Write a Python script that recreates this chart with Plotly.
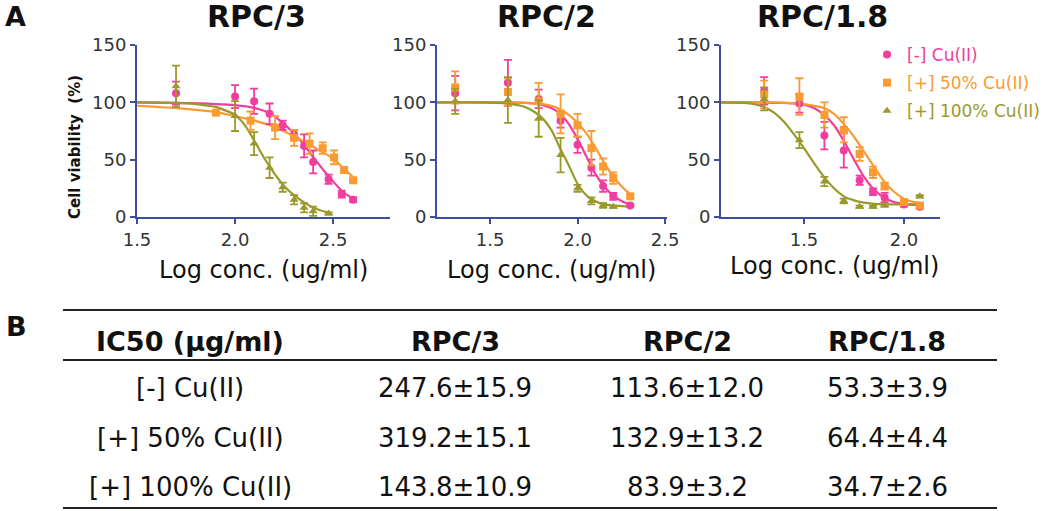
import plotly.graph_objects as go

W, H = 1050, 511
FONT = "DejaVu Sans"
PINK = "#f13d9d"
ORANGE = "#f99b32"
OLIVE = "#9a9a2c"
NAVY = "#3d4e9e"
TXT = "#333333"

series_names = ["[-] Cu(II)", "[+] 50% Cu(II)", "[+] 100% Cu(II)"]
panel_titles = ["RPC/3", "RPC/2", "RPC/1.8"]

# ---------------- Panel 1 : RPC/3 ----------------
p1_neg_x = [1.699, 2.0, 2.097, 2.176, 2.243, 2.301, 2.352, 2.398, 2.477, 2.544, 2.602]
p1_neg_y = [108, 105, 101, 90, 80, 72, 62, 48, 33, 20, 15]
p1_neg_e = [10, 10, 11, 9, 4, 4, 10, 10, 4, 3, 2]
p1_50_x = [1.903, 2.079, 2.204, 2.301, 2.380, 2.447, 2.505, 2.556, 2.602]
p1_50_y = [91, 84, 78, 69, 64, 60, 52, 41, 32]
p1_50_e = [2, 8, 10, 7, 9, 5, 6, 2, 1]
p1_100_x = [1.699, 2.0, 2.097, 2.176, 2.243, 2.301, 2.352, 2.398, 2.477]
p1_100_y = [114, 88, 64, 43, 26, 15, 8, 5, 3]
p1_100_e = [18, 13, 10, 9, 4, 4, 4, 4, 1]

p1_fit_neg_x = [1.5, 1.7, 1.9, 2.0, 2.1, 2.15, 2.2, 2.25, 2.3, 2.35, 2.4, 2.45, 2.5, 2.55, 2.6]
p1_fit_neg_y = [100, 99.5, 98.5, 97.5, 95, 92.5, 88, 81, 73, 63, 52, 41, 31, 22, 16]
p1_fit_50_x = [1.5, 1.6, 1.7, 1.8, 1.9, 2.0, 2.1, 2.2, 2.3, 2.4, 2.5, 2.55, 2.6]
p1_fit_50_y = [97, 96, 95, 93.5, 91.5, 88, 84, 78.5, 70.5, 61, 51, 43, 35]
p1_fit_100_x = [1.5, 1.7, 1.8, 1.9, 1.95, 2.0, 2.05, 2.1, 2.15, 2.2, 2.25, 2.3, 2.35, 2.4, 2.45, 2.48]
p1_fit_100_y = [100, 99.5, 98.5, 96, 93, 89, 80, 66, 51, 38, 27, 19, 13, 8, 5, 4]

# ---------------- Panel 2 : RPC/2 ----------------
p2_x = [1.301, 1.602, 1.778, 1.903, 2.0, 2.079, 2.146, 2.204, 2.301]
p2_neg_y = [108, 117, 103, 84, 63, 43, 27, 18, 10]
p2_neg_e = [15, 20, 8, 6, 7, 7, 5, 3, 1]
p2_50_y = [113, 109, 101, 90, 80, 60, 44, 34, 18]
p2_50_e = [14, 12, 16, 17, 10, 15, 7, 5, 2]
p2_100_x = [1.301, 1.602, 1.778, 1.903, 2.0, 2.079, 2.146, 2.204]
p2_100_y = [101, 102, 86, 54, 25, 14, 10, 9]
p2_100_e = [11, 20, 16, 15, 3, 3, 2, 1]

p2_fit_x = [1.197, 1.4, 1.6, 1.7, 1.75, 1.8, 1.85, 1.9, 1.95, 2.0, 2.05, 2.1, 2.15, 2.2, 2.25, 2.3]
p2_fit_neg_y = [100, 100, 100, 99.5, 99, 97.5, 95, 90, 81, 68, 53, 38, 27, 19, 14, 11]
p2_fit_50_y = [100, 100, 100, 99.5, 99, 98.5, 97, 94, 89, 82, 73, 61, 48, 36, 27, 20]
p2_fit_100_y = [100, 100, 99, 96, 92, 86, 76, 60, 45, 29, 19, 14, 11, 10, 9.5, 9]

# ---------------- Panel 3 : RPC/1.8 ----------------
p3_x = [1.301, 1.477, 1.602, 1.699, 1.778, 1.845, 1.903, 2.0, 2.079]
p3_neg_y = [110, 99, 71, 58, 32, 22, 17, 11, 9]
p3_neg_e = [12, 8, 12, 15, 4, 3, 4, 2, 2]
p3_50_y = [107, 105, 89, 76, 55, 39, 27, 13, 10]
p3_50_e = [12, 16, 11, 11, 6, 5, 3, 2, 2]
p3_100_x = [1.301, 1.477, 1.602, 1.699, 1.778, 1.845, 1.903, 2.079]
p3_100_y = [103, 67, 31, 14, 9, 9, 10, 18]
p3_100_e = [10, 7, 4, 2, 1, 1, 1, 1]

p3_fit_x = [1.085, 1.2, 1.25, 1.3, 1.35, 1.4, 1.45, 1.5, 1.55, 1.6, 1.65, 1.7, 1.75, 1.8,
            1.85, 1.9, 1.95, 2.0, 2.05, 2.1]
p3_fit_neg_y = [100, 100, 100, 100, 99.5, 99.5, 99, 98, 95, 89, 80, 66, 50, 35, 24, 17, 13, 11.5, 10.5, 10]
p3_fit_50_y = [100, 100, 100, 100, 100, 99.5, 99, 98.5, 97, 95, 90, 81, 70, 57, 44, 31, 22, 16, 13, 11.5]
p3_fit_100_y = [100, 99.5, 98.5, 96, 91, 83, 72, 60, 47, 35, 25, 18, 14.5, 12.5, 11.5, 11, 11, 11, 11, 11]

# ---------------- Table B ----------------
table_header = ["IC50 (\u00b5g/ml)", "RPC/3", "RPC/2", "RPC/1.8"]
table_rows = [
    ["[-] Cu(II)", "247.6\u00b115.9", "113.6\u00b112.0", "53.3\u00b13.9"],
    ["[+] 50% Cu(II)", "319.2\u00b115.1", "132.9\u00b113.2", "64.4\u00b14.4"],
    ["[+] 100% Cu(II)", "143.8\u00b110.9", "83.9\u00b13.2", "34.7\u00b12.6"],
]

x_ranges = [[1.5, 2.79], [1.197, 2.511], [1.085, 2.18]]
x_ticks = [[1.5, 2.0, 2.5], [1.5, 2.0, 2.5], [1.5, 2.0]]
y_ticks = [0, 50, 100, 150]


def fx(px):
    return px / W


def fy(py):
    return 1 - py / H


fig = go.Figure()

panels = [
    dict(pts=[(p1_neg_x, p1_neg_y, p1_neg_e), (p1_50_x, p1_50_y, p1_50_e), (p1_100_x, p1_100_y, p1_100_e)],
         fits=[(p1_fit_neg_x, p1_fit_neg_y), (p1_fit_50_x, p1_fit_50_y), (p1_fit_100_x, p1_fit_100_y)]),
    dict(pts=[(p2_x, p2_neg_y, p2_neg_e), (p2_x, p2_50_y, p2_50_e), (p2_100_x, p2_100_y, p2_100_e)],
         fits=[(p2_fit_x, p2_fit_neg_y), (p2_fit_x, p2_fit_50_y), (p2_fit_x, p2_fit_100_y)]),
    dict(pts=[(p3_x, p3_neg_y, p3_neg_e), (p3_x, p3_50_y, p3_50_e), (p3_100_x, p3_100_y, p3_100_e)],
         fits=[(p3_fit_x, p3_fit_neg_y), (p3_fit_x, p3_fit_50_y), (p3_fit_x, p3_fit_100_y)]),
]
colors = [PINK, ORANGE, OLIVE]
symbols = ["circle", "square", "triangle-up"]
sizes = [8, 8, 8]
groups = ["neg", "half", "full"]

for pi, pan in enumerate(panels):
    xa = "x" if pi == 0 else f"x{pi+1}"
    ya = "y" if pi == 0 else f"y{pi+1}"
    for si in range(3):
        fxs, fys = pan["fits"][si]
        fig.add_trace(go.Scatter(x=fxs, y=fys, mode="lines", xaxis=xa, yaxis=ya,
                                 line=dict(color=colors[si], width=2.2, shape="spline", smoothing=0.8),
                                 showlegend=False, hoverinfo="skip", legendgroup=groups[si]))
    for si in range(3):
        xs, ys, es = pan["pts"][si]
        fig.add_trace(go.Scatter(
            x=xs, y=ys, mode="markers", xaxis=xa, yaxis=ya,
            marker=dict(color=colors[si], symbol=symbols[si], size=sizes[si]),
            error_y=dict(type="data", array=es, visible=True, color=colors[si], thickness=1.8, width=4),
            name=f'<span style="color:{colors[si]}">{series_names[si]}</span>',
            legendgroup=groups[si], showlegend=(pi == 2)))

x_domains = [[fx(137), fx(390)], [fx(437), fx(667)], [fx(721), fx(940)]]
y_domain = [fy(217), fy(45)]

axis_common = dict(showline=True, linecolor=NAVY, linewidth=2, ticks="outside", ticklen=5,
                   tickwidth=2, tickcolor=NAVY, showgrid=False, zeroline=False, automargin=False,
                   tickfont=dict(family=FONT, size=18, color=TXT))
layout = dict(width=W, height=H, autosize=False, margin=dict(l=0, r=0, t=0, b=0, pad=0),
              paper_bgcolor="white", plot_bgcolor="rgba(0,0,0,0)",
              showlegend=True,
              legend=dict(x=fx(867), y=fy(37), xanchor="left", yanchor="top",
                          font=dict(family=FONT, size=17, color=TXT),
                          bgcolor="rgba(0,0,0,0)", itemwidth=30, tracegroupgap=3))
for pi in range(3):
    xk = "xaxis" if pi == 0 else f"xaxis{pi+1}"
    yk = "yaxis" if pi == 0 else f"yaxis{pi+1}"
    ya = "y" if pi == 0 else f"y{pi+1}"
    xa = "x" if pi == 0 else f"x{pi+1}"
    layout[xk] = dict(axis_common, domain=x_domains[pi], range=x_ranges[pi], anchor=ya,
                      tickvals=x_ticks[pi], tickformat=".1f")
    layout[yk] = dict(axis_common, domain=y_domain, range=[0, 150], anchor=xa,
                      tickvals=y_ticks)
fig.update_layout(**layout)

ann = []
# panel labels
ann.append(dict(text="<b>A</b>", x=fx(15), y=fy(17), font=dict(size=27)))
ann.append(dict(text="<b>B</b>", x=fx(16), y=fy(326), font=dict(size=27)))
# panel titles
for t, cx in zip(panel_titles, [256, 546, 822]):
    ann.append(dict(text=f"<b>{t}</b>", x=fx(cx), y=fy(17), font=dict(size=30)))
# x-axis titles
for cx, cy in zip([263, 551, 834], [270, 270, 266]):
    ann.append(dict(text="Log conc. (ug/ml)", x=fx(cx), y=fy(cy), font=dict(size=24)))
# y-axis title
ann.append(dict(text="<b>Cell viability\u00a0 (%)</b>", x=fx(75), y=fy(147), textangle=-90,
                font=dict(size=15)))

# table
col_x = [190, 455, 687, 887]
for cx, t in zip(col_x, table_header):
    ann.append(dict(text=f"<b>{t}</b>", x=fx(cx), y=fy(341), font=dict(size=27)))
for ry, row in zip([388, 438, 487], table_rows):
    for cx, t in zip(col_x, row):
        ann.append(dict(text=t, x=fx(cx), y=fy(ry), font=dict(size=26)))

for a in ann:
    a.update(xref="paper", yref="paper", showarrow=False, xanchor="center", yanchor="middle")
    a["font"] = dict(family=FONT, color="#111111", **a["font"])
fig.update_layout(annotations=ann)

shapes = []
for ly in [310, 360, 508]:
    shapes.append(dict(type="line", xref="paper", yref="paper", x0=fx(63), x1=fx(997),
                       y0=fy(ly), y1=fy(ly), line=dict(color="#222222", width=2)))
fig.update_layout(shapes=shapes)

fig.write_html("out.html", config={"displayModeBar": False},
               post_script="document.body.style.margin='0';")
